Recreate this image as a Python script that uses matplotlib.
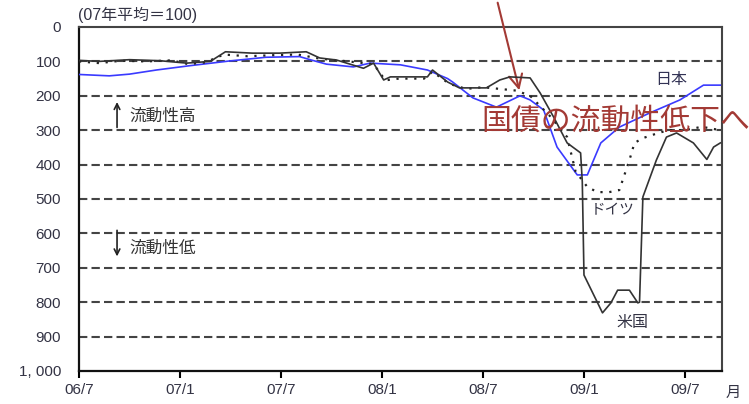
import matplotlib
matplotlib.use("Agg")
import matplotlib.pyplot as plt

plt.rcParams['font.family'] = ['Liberation Sans', 'Noto Sans CJK JP', 'DejaVu Sans']

# months since 2006/7
jp_x = [0, 1.8, 3.0, 4.6, 6.5, 8.9, 11.1, 13.1, 13.8, 14.7, 16.3, 17.3, 19.1, 20.7, 21.9,
        22.2, 23.4, 24.8, 26.2, 26.8, 27.6, 28.4, 29.6, 30.2, 31.0, 32.1, 33.9, 35.7, 37.1, 38.1]
jp_y = [138, 142, 137, 125, 113, 99, 88, 86, 96, 108, 116, 105, 110, 125, 150,
        160, 206, 233, 200, 212, 241, 349, 430, 430, 337, 291, 250, 212, 169, 169]

us_x = [0, 1.2, 3.0, 4.8, 6.4, 7.8, 8.7, 10.3, 11.9, 13.5, 14.3, 15.3, 16.9, 17.5, 18.1,
        18.5, 20.7, 21.0, 21.9, 22.6, 24.2, 25.0, 25.6, 26.8, 27.4, 28.2, 29.0, 29.8, 29.9,
        30.0, 31.1, 31.6, 32.0, 32.7, 33.2, 33.3, 33.5, 34.3, 34.9, 35.5, 36.5, 37.3, 37.7, 38.1]
us_y = [97, 100, 95, 98, 105, 100, 72, 76, 76, 72, 90, 96, 120, 105, 154,
        145, 145, 125, 160, 177, 177, 154, 145, 148, 192, 262, 337, 366, 450,
        721, 831, 802, 765, 765, 802, 800, 494, 387, 320, 308, 337, 385, 349, 337]

de_x = [0, 1.2, 2.5, 4.0, 5.5, 6.5, 7.5, 8.6, 10.0, 11.5, 13.0, 14.3, 16.0, 17.5, 18.2,
        19.0, 20.5, 21.0, 22.0, 23.0, 24.0, 25.0, 26.0, 26.8, 28.0, 29.0, 29.5, 30.2, 30.8,
        31.5, 32.1, 32.7, 33.0, 33.5, 34.3, 35.0, 36.0, 37.0, 38.1]
de_y = [100, 105, 98, 100, 97, 108, 103, 80, 85, 82, 80, 92, 100, 108, 155,
        150, 150, 130, 165, 180, 175, 180, 185, 200, 260, 320, 420, 465, 480,
        480, 474, 387, 337, 323, 310, 300, 300, 290, 300]

xticks = [0, 6, 12, 18, 24, 30, 36]
xlabels = ['06/7', '07/1', '07/7', '08/1', '08/7', '09/1', '09/7']
yticks = list(range(0, 1001, 100))
ylabels = ['0', '100', '200', '300', '400', '500', '600', '700', '800', '900', '1, 000']

fig = plt.figure(figsize=(7.49, 4.04), dpi=100)
ax = fig.add_axes([79/749, 1-371/404, (722-79)/749, (371-27)/404])

for v in range(100, 1000, 100):
    ax.axhline(v, color='#444444', lw=1.5, ls=(0, (4, 2)), zorder=1)

ax.plot(jp_x, jp_y, color='#3a3aff', lw=1.2, zorder=3)
ax.plot(de_x, de_y, color='#222222', lw=1.6, ls=(0, (1, 3)), zorder=3)
ax.plot(us_x, us_y, color='#333333', lw=1.2, zorder=4)

ax.set_xlim(0, 38.2)
ax.set_ylim(1000, 0)
ax.set_xticks(xticks)
ax.set_xticklabels(xlabels, fontsize=11, color='#333344')
ax.set_yticks(yticks)
ax.set_yticklabels(ylabels, fontsize=11, color='#333344')
ax.tick_params(axis='x', direction='out', length=5, width=1.5, pad=4)
ax.tick_params(axis='y', length=0, pad=13)
for s in ['left', 'bottom']:
    ax.spines[s].set_linewidth(1.6)
    ax.spines[s].set_color('#111111')
for s in ['top', 'right']:
    ax.spines[s].set_linewidth(1.5)
    ax.spines[s].set_color('#444444')

# series labels
ax.text(35.2, 154, '日本', fontsize=11.5, color='#333355', ha='center', va='center')
ax.text(31.7, 532, 'ドイツ', fontsize=10.5, color='#333344', ha='center', va='center')
ax.text(32.9, 858, '米国', fontsize=11.5, color='#333344', ha='center', va='center')

# liquidity direction notes
ax.annotate('', xy=(2.26, 210), xytext=(2.26, 300),
            arrowprops=dict(arrowstyle='->', color='#222222', lw=1.2))
ax.text(3.0, 259, '流動性高', fontsize=12, color='#333333', va='center')
ax.annotate('', xy=(2.26, 675), xytext=(2.26, 583),
            arrowprops=dict(arrowstyle='->', color='#222222', lw=1.2))
ax.text(3.0, 642, '流動性低', fontsize=12, color='#333333', va='center')

fig.text(78/749, 1-15/404, '(07年平均＝100)', fontsize=11.5, color='#333344', va='center')
fig.text(726/749, 1-393/404, '月', fontsize=11, color='#333344', va='center')

# red callout
fig.text(481/749, 1-121/404, '国債の流動性低下へ', fontsize=21.5, color='#a33a35',
         va='center', family=['Noto Sans CJK JP'])
ax.annotate('', xy=(520/749, 1-93/404), xycoords='figure fraction',
            xytext=(497/749, 1.0), textcoords='figure fraction',
            arrowprops=dict(arrowstyle='->', color='#a33a35', lw=1.5,
                            mutation_scale=24))

fig.savefig('out.png', dpi=100)
